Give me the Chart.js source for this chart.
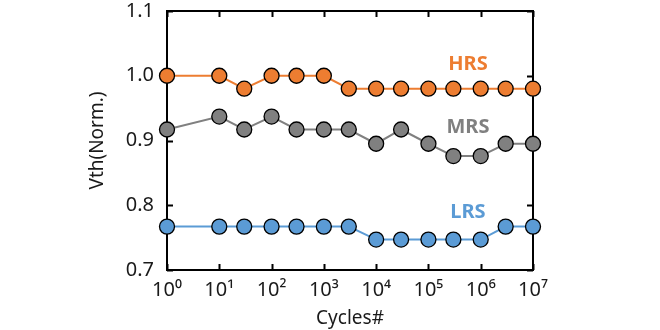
<!DOCTYPE html>
<html>
<head>
<meta charset="utf-8">
<script src="https://cdn.jsdelivr.net/npm/chart.js@4.4.1/dist/chart.umd.min.js"></script>
<style>
  html, body { margin: 0; padding: 0; background: #fff; }
  #wrap { width: 660px; height: 330px; }
</style>
</head>
<body>
<div id="wrap"><canvas id="vthChart" width="660" height="330"></canvas></div>
<script>
const cycles = [1, 10, 30, 100, 300, 1000, 3000, 1e4, 3e4, 1e5, 3e5, 1e6, 3e6, 1e7];
const hrs = [1.0, 1.0, 0.98, 1.0, 1.0, 1.0, 0.98, 0.98, 0.98, 0.98, 0.98, 0.98, 0.98, 0.98];
const mrs = [0.917, 0.937, 0.917, 0.937, 0.917, 0.917, 0.917, 0.895, 0.917, 0.895, 0.876, 0.876, 0.895, 0.895];
const lrs = [0.767, 0.767, 0.767, 0.767, 0.767, 0.767, 0.767, 0.747, 0.747, 0.747, 0.747, 0.747, 0.767, 0.767];
const xTicks = [1, 10, 100, 1e3, 1e4, 1e5, 1e6, 1e7];
const yTicks = [0.7, 0.8, 0.9, 1.0, 1.1];
const seriesNames = ['HRS', 'MRS', 'LRS'];
const seriesColors = ['#ED7D31', '#808080', '#5B9BD5'];

const FONT = '"Noto Sans", "Open Sans", sans-serif';
const SUP = '⁰¹²³⁴⁵⁶⁷⁸⁹';

function series(values, i) {
  return {
    label: seriesNames[i],
    data: cycles.map((c, k) => ({ x: c, y: values[k] })),
    borderColor: seriesColors[i],
    backgroundColor: seriesColors[i],
    borderWidth: 2,
    pointRadius: 7.5,
    pointBorderColor: '#000',
    pointBorderWidth: 1.3,
    clip: false
  };
}

// box frame + inward ticks
const framePlugin = {
  id: 'frame',
  beforeDatasetsDraw(chart) {
    const { ctx, chartArea: a, scales } = chart;
    ctx.save();
    ctx.strokeStyle = '#000';
    ctx.lineWidth = 2;
    ctx.strokeRect(a.left, a.top, a.right - a.left, a.bottom - a.top);
    ctx.beginPath();
    xTicks.forEach(v => {
      const px = Math.round(scales.x.getPixelForValue(v)) + 0.5;
      ctx.moveTo(px, a.bottom); ctx.lineTo(px, a.bottom - 6);
      ctx.moveTo(px, a.top); ctx.lineTo(px, a.top + 6);
    });
    yTicks.forEach(v => {
      const py = Math.round(scales.y.getPixelForValue(v)) + 0.5;
      ctx.moveTo(a.left, py); ctx.lineTo(a.left + 6, py);
      ctx.moveTo(a.right, py); ctx.lineTo(a.right - 6, py);
    });
    ctx.stroke();
    ctx.restore();
  }
};

// series name tags
const tagPlugin = {
  id: 'tags',
  afterDatasetsDraw(chart) {
    const { ctx, scales } = chart;
    const tagY = [1.017, 0.92, 0.789];
    ctx.save();
    ctx.font = 'bold 20px ' + FONT;
    ctx.textAlign = 'center';
    ctx.textBaseline = 'middle';
    seriesNames.forEach((name, i) => {
      ctx.fillStyle = seriesColors[i];
      ctx.fillText(name, scales.x.getPixelForValue(5.7e5), scales.y.getPixelForValue(tagY[i]));
    });
    ctx.restore();
  }
};

new Chart(document.getElementById('vthChart'), {
  type: 'line',
  data: { datasets: [series(hrs, 0), series(mrs, 1), series(lrs, 2)] },
  options: {
    responsive: false,
    animation: false,
    layout: { padding: { left: 86, right: 127, top: 11, bottom: 0 } },
    plugins: { legend: { display: false }, tooltip: { enabled: false } },
    scales: {
      x: {
        type: 'logarithmic',
        min: 1,
        max: 1e7,
        afterBuildTicks: s => { s.ticks = xTicks.map(v => ({ value: v })); },
        afterFit: s => { s.height = 60; s.paddingLeft = 0; s.paddingRight = 0; },
        grid: { display: false, drawTicks: false },
        border: { display: false },
        ticks: {
          padding: 8,
          color: '#1a1a1a',
          font: { family: FONT, size: 20 },
          maxRotation: 0,
          callback: v => '10' + SUP[Math.round(Math.log10(v))]
        },
        title: { display: true, text: 'Cycles#', color: '#1a1a1a', font: { family: FONT, size: 19 }, padding: { top: 0, bottom: 0 } }
      },
      y: {
        min: 0.7,
        max: 1.1,
        afterBuildTicks: s => { s.ticks = yTicks.map(v => ({ value: v })); },
        afterFit: s => { s.width = 81; s.paddingTop = 0; s.paddingBottom = 0; },
        grid: { display: false, drawTicks: false },
        border: { display: false },
        ticks: {
          padding: 13,
          color: '#1a1a1a',
          font: { family: FONT, size: 20 },
          callback: v => v.toFixed(1)
        },
        title: { display: true, text: 'Vth(Norm.)', color: '#1a1a1a', font: { family: FONT, size: 19 }, padding: { top: 0, bottom: 0 } }
      }
    }
  },
  plugins: [framePlugin, tagPlugin]
});
</script>
</body>
</html>
